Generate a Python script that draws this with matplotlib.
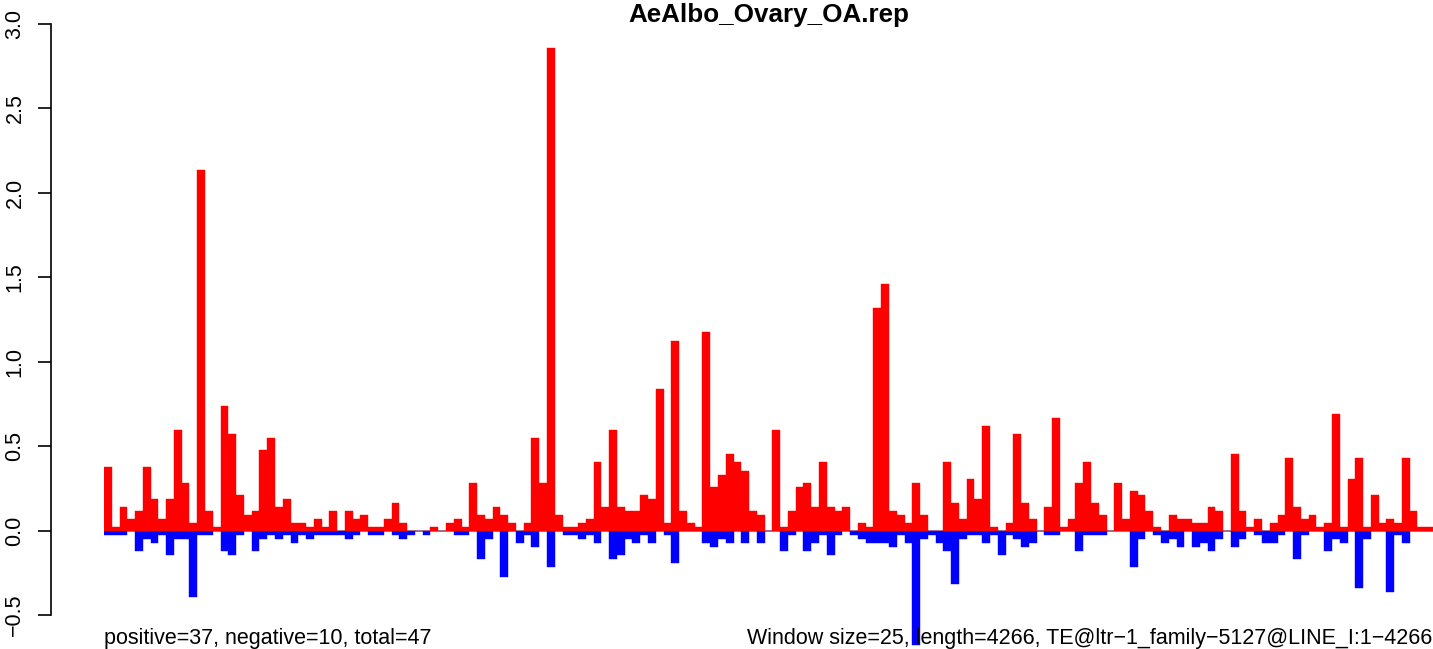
import matplotlib
matplotlib.use("Agg")
import matplotlib.pyplot as plt
import numpy as np

title = "AeAlbo_Ovary_OA.rep"
left_note = "positive=37, negative=10, total=47"
right_note = "Window size=25, length=4266, TE@ltr\u22121_family\u22125127@LINE_I:1\u22124266"

pos_values = [
    0.379, 0.024, 0.142, 0.071, 0.118, 0.379, 0.189, 0.071, 0.189, 0.598,
    0.284, 0.047, 2.136, 0.118, 0.024, 0.740, 0.574, 0.213, 0.095, 0.118,
    0.479, 0.550, 0.142, 0.189, 0.047, 0.047, 0.024, 0.071, 0.024, 0.118,
    0.000, 0.118, 0.071, 0.095, 0.024, 0.024, 0.071, 0.166, 0.047, 0.000,
    0.000, 0.000, 0.024, 0.000, 0.047, 0.071, 0.024, 0.284, 0.095, 0.071,
    0.142, 0.095, 0.047, 0.000, 0.047, 0.550, 0.284, 2.858, 0.095, 0.024,
    0.024, 0.047, 0.071, 0.408, 0.142, 0.598, 0.142, 0.118, 0.118, 0.213,
    0.189, 0.840, 0.047, 1.124, 0.118, 0.047, 0.024, 1.178, 0.260, 0.331,
    0.456, 0.408, 0.355, 0.118, 0.095, 0.000, 0.598, 0.024, 0.118, 0.260,
    0.284, 0.142, 0.408, 0.142, 0.118, 0.142, 0.000, 0.047, 0.024, 1.318,
    1.460, 0.118, 0.095, 0.047, 0.284, 0.095, 0.000, 0.000, 0.408, 0.166,
    0.071, 0.308, 0.189, 0.620, 0.024, 0.000, 0.047, 0.574, 0.166, 0.071,
    0.000, 0.142, 0.669, 0.024, 0.071, 0.284, 0.408, 0.166, 0.095, 0.000,
    0.284, 0.071, 0.237, 0.213, 0.118, 0.024, 0.000, 0.095, 0.071, 0.071,
    0.047, 0.047, 0.142, 0.118, 0.000, 0.456, 0.118, 0.024, 0.071, 0.000,
    0.047, 0.095, 0.432, 0.142, 0.071, 0.095, 0.024, 0.047, 0.692, 0.024,
    0.308, 0.432, 0.024, 0.213, 0.047, 0.071, 0.047, 0.432, 0.118, 0.024,
    0.024,
]

neg_values = [
    -0.024, -0.024, -0.024, 0.000, -0.118, -0.047, -0.071, -0.024, -0.142, -0.047,
    -0.047, -0.390, -0.024, -0.024, 0.000, -0.118, -0.142, -0.024, 0.000, -0.118,
    -0.047, -0.024, -0.047, -0.024, -0.071, -0.024, -0.047, -0.024, -0.024, -0.024,
    -0.024, -0.047, -0.024, 0.000, -0.024, -0.024, 0.000, -0.024, -0.047, -0.024,
    0.000, -0.024, 0.000, 0.000, 0.000, -0.024, -0.024, 0.000, -0.166, -0.047,
    0.000, -0.272, 0.000, -0.071, -0.024, -0.095, 0.000, -0.217, 0.000, -0.024,
    -0.024, -0.047, -0.024, -0.071, 0.000, -0.166, -0.142, -0.047, -0.071, -0.024,
    -0.071, 0.000, -0.024, -0.189, 0.000, 0.000, 0.000, -0.071, -0.095, -0.047,
    -0.071, 0.000, -0.071, 0.000, -0.071, 0.000, 0.000, -0.118, -0.024, 0.000,
    -0.118, -0.071, -0.024, -0.142, -0.024, 0.000, -0.024, -0.047, -0.071, -0.071,
    -0.071, -0.095, -0.024, -0.071, -0.677, -0.047, -0.024, -0.071, -0.118, -0.316,
    -0.047, -0.024, -0.024, -0.071, -0.024, -0.142, -0.024, -0.047, -0.095, -0.071,
    0.000, -0.024, -0.024, 0.000, 0.000, -0.118, -0.024, -0.024, -0.024, 0.000,
    0.000, 0.000, -0.217, -0.047, 0.000, -0.024, -0.071, -0.047, -0.095, 0.000,
    -0.095, -0.071, -0.118, -0.047, 0.000, -0.095, -0.047, 0.000, -0.024, -0.071,
    -0.071, -0.024, 0.000, -0.166, -0.024, 0.000, 0.000, -0.118, -0.047, -0.071,
    0.000, -0.340, -0.047, 0.000, 0.000, -0.365, -0.024, -0.071, 0.000, 0.000,
    0.000,
]

y_ticks = [-0.5, 0.0, 0.5, 1.0, 1.5, 2.0, 2.5, 3.0]
y_tick_labels = ["\u22120.5", "0.0", "0.5", "1.0", "1.5", "2.0", "2.5", "3.0"]

plt.rcParams["font.family"] = ["Liberation Sans", "DejaVu Sans"]

W, H = 1433, 649
fig = plt.figure(figsize=(W / 100, H / 100), dpi=100)
ax = fig.add_axes([104 / W, 0, 1329 / W, 1])

n = len(pos_values)
x = np.arange(n)
ax.axhline(0, color="#9e9e9e", lw=1.2, zorder=1)
ax.bar(x, neg_values, width=1.0, align="edge", color="#0000ff",
       edgecolor="#0000ff", linewidth=0.3, zorder=2)
ax.bar(x, pos_values, width=1.0, align="edge", color="#ff0000",
       edgecolor="#ff0000", linewidth=0.3, zorder=3)

ax.set_xlim(0, n)
ax.set_ylim(-0.700, 3.142)

for s in ["top", "right", "bottom"]:
    ax.spines[s].set_visible(False)
ax.spines["left"].set_position(("outward", 38.2))
ax.spines["left"].set_bounds(-0.5, 3.0)
ax.spines["left"].set_linewidth(1.2)
ax.set_xticks([])
ax.set_yticks(y_ticks)
ax.set_yticklabels(y_tick_labels, rotation=90, va="center")
ax.tick_params(axis="y", length=9.4, width=1.2, pad=9, labelsize=15.5)

fig.text(768.5 / W, 1 - 22 / H, title, ha="center", va="baseline",
         fontsize=18.7, fontweight="bold")
fig.text(104 / W, 1 - 644 / H, left_note, ha="left", va="baseline", fontsize=15.5)
fig.text(1432 / W, 1 - 644 / H, right_note, ha="right", va="baseline", fontsize=15.5)

fig.savefig("out.png", dpi=100)
